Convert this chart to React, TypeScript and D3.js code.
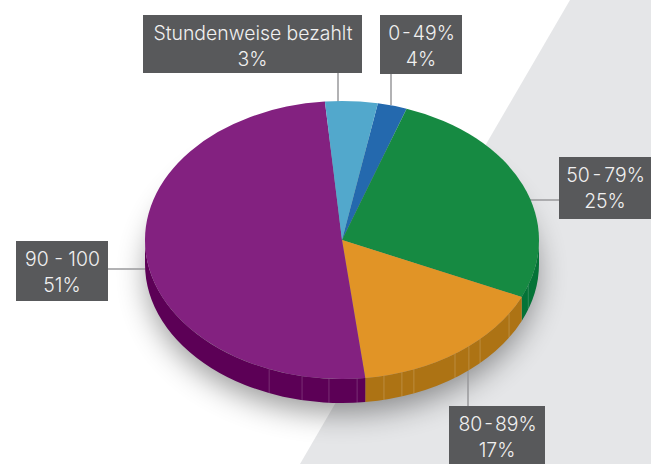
import React from "react";
import * as d3 from "d3";

const width = 651, height = 464;
const sliceNames = ["0 - 49%", "50 - 79%", "80 - 89%", "90 - 100", "Stundenweise bezahlt"];
const sliceLabels = ["4%", "25%", "17%", "51%", "3%"];
const sliceShares = [2.4, 26.4, 16.4, 50.5, 4.3];
const sliceColors = ["#2469ae", "#168a42", "#e19426", "#832180", "#52a8cc"];
const wallColors = ["#1c5590", "#047337", "#ad7314", "#5c0056", "#3f8aaa"];
const facetAngles = [109, 122, 135.5, 139.9, 145, 158.6, 162.3, 167.7, 175.6, 183.8, 191.7, 201.7];
const labelBoxes = [
  { i: 4, x: 143, y: 15, w: 219, h: 58, lx1: 338, ly1: 73, lx2: 338, ly2: 102, ws: 0 },
  { i: 0, x: 380, y: 15, w: 82, h: 59, lx1: 391, ly1: 74, lx2: 391, ly2: 105, ws: -3.5 },
  { i: 1, x: 559, y: 157, w: 92, h: 62, lx1: 530, ly1: 200, lx2: 559, ly2: 200, ws: -2.5 },
  { i: 2, x: 449, y: 406, w: 96, h: 58, lx1: 468, ly1: 370, lx2: 468, ly2: 406, ws: -3.5 },
  { i: 3, x: 16, y: 241, w: 92, h: 60, lx1: 108, ly1: 269, lx2: 146, ly2: 269, ws: 0 },
];

const cx = 342, cy = 240, rx = 197, ry = 139, depth = 24;
const rad = (d: number) => (d * Math.PI) / 180;
const px = (a: number) => cx + rx * Math.sin(a);
const py = (a: number) => cy - ry * Math.cos(a);

const pie = d3.pie<number>().sort(null).startAngle(rad(10.5)).endAngle(rad(370.5));
const arcs = pie(sliceShares);
const arcGen = d3.arc<any>().innerRadius(0).outerRadius(rx);

function wallPath(a0: number, a1: number) {
  const s = Math.max(a0, Math.PI / 2), e = Math.min(a1, (3 * Math.PI) / 2);
  if (e <= s) return null;
  const large = e - s > Math.PI ? 1 : 0;
  return `M${px(s)},${py(s)}A${rx},${ry} 0 ${large} 1 ${px(e)},${py(e)}L${px(e)},${py(e) + depth}A${rx},${ry} 0 ${large} 0 ${px(s)},${py(s) + depth}Z`;
}

export default function App() {
  return (
    <svg width={width} height={height} viewBox={`0 0 ${width} ${height}`}
      style={{ position: "fixed", left: 0, top: 0, display: "block", background: "#fff" }}>
      <defs>
        <filter id="soft" x="-30%" y="-30%" width="160%" height="170%">
          <feGaussianBlur stdDeviation="15" />
        </filter>
      </defs>
      <polygon points="570,0 651,0 651,464 300,464" fill="#e5e6e8" />
      <ellipse cx={cx} cy={cy + 34} rx={rx - 2} ry={ry} fill="#000" opacity={0.4} filter="url(#soft)" />
      {labelBoxes.map((b) => (
        <line key={b.i} x1={b.lx1} y1={b.ly1} x2={b.lx2} y2={b.ly2} stroke="#98999b" strokeWidth={1.5} />
      ))}
      {arcs.map((d, i) => {
        const w = wallPath(d.startAngle, d.endAngle);
        return w ? <path key={i} d={w} fill={wallColors[i]} /> : null;
      })}
      {facetAngles.map((a) => (
        <line key={a} x1={px(rad(a))} y1={py(rad(a))} x2={px(rad(a))} y2={py(rad(a)) + depth}
          stroke="#fff" strokeOpacity={0.18} strokeWidth={1} />
      ))}
      <g transform={`translate(${cx},${cy}) scale(1,${ry / rx})`}>
        {arcs.map((d, i) => (
          <path key={i} d={arcGen(d) as string} fill={sliceColors[i]} />
        ))}
      </g>
      {labelBoxes.map((b) => (
        <g key={b.i} fontFamily="Inter" fontSize={19.4} fontWeight={300} fill="#f0f0f0" textAnchor="middle">
          <rect x={b.x} y={b.y} width={b.w} height={b.h} fill="#58595b" />
          <text x={b.x + b.w / 2 + 0.5} y={b.y + 24.5} wordSpacing={b.ws}>{sliceNames[b.i]}</text>
          <text x={b.x + b.w / 2} y={b.y + 50.5}>{sliceLabels[b.i]}</text>
        </g>
      ))}
    </svg>
  );
}
